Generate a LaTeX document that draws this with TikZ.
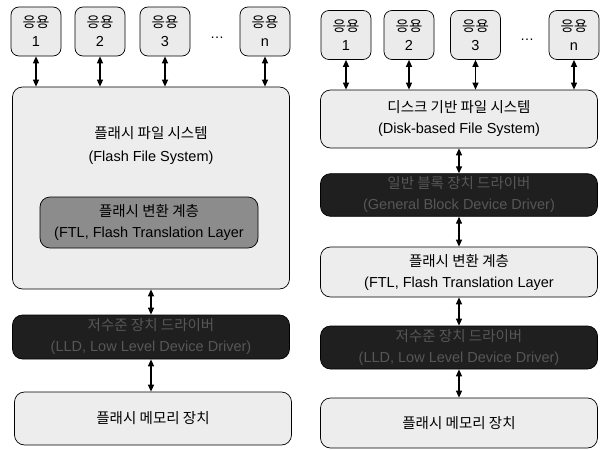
\documentclass[tikz,border=0pt]{standalone}
\usepackage{fontspec}
\setmainfont{Liberation Sans}
\newfontfamily\kr{Noto Sans CJK KR}
\usetikzlibrary{positioning, arrows.meta}

\begin{document}
\begin{tikzpicture}[
        x=1pt, y=-1pt,
        app/.style   = {draw, rounded corners=8pt, minimum width=50pt, minimum height=49pt, align=center, fill=black!8, font=\fontsize{14.5}{19}\selectfont, line width=0.7pt},
        layer/.style = {draw, rounded corners=10pt, minimum width=277pt, align=center, fill=black!7, font=\fontsize{14.5}{21}\selectfont, line width=0.7pt},
        dark/.style  = {layer, fill=black!88, text=black!66},
        arrow/.style = {{Triangle[length=7pt,width=6pt]}-{Triangle[length=7pt,width=6pt]}, line width=1.2pt},
    ]
        \useasboundingbox (0,0) rectangle (600,450);

        % left: flash file system
        \node[app] (la1) at (36,31.5) {{\kr 응용}\\1};
        \node[app] (la2) at (100,31.5) {{\kr 응용}\\2};
        \node[app] (la3) at (165,31.5) {{\kr 응용}\\3};
        \node[font=\fontsize{14}{20}\selectfont] (ldots) at (217,38) {\ldots};
        \node[app] (lan) at (265,31.5) {{\kr 응용}\\n};

        \node[layer, minimum height=202pt] (ffs) at (151,188) {};
        \node[align=center, font=\fontsize{14.5}{23}\selectfont] (ffstitle) at (151,146) {{\kr 플래시 파일 시스템}\\(Flash File System)};
        \node[layer, fill=black!45, minimum width=218pt, minimum height=51pt] (lftl) at (149,222.5) {{\kr 플래시 변환 계층}\\(FTL, Flash Translation Layer};
        \node[dark, minimum height=44pt] (llld) at (151,337) {{\kr 저수준 장치 드라이버}\\(LLD, Low Level Device Driver)};
        \node[layer, minimum height=53pt] (lmem) at (153,418.5) {{\kr 플래시 메모리 장치}};

        \draw[arrow] (la1.south) -- (la1.south |- ffs.north);
        \draw[arrow] (la2.south) -- (la2.south |- ffs.north);
        \draw[arrow] (la3.south) -- (la3.south |- ffs.north);
        \draw[arrow] (lan.south) -- (lan.south |- ffs.north);
        \draw[arrow] (ffs.south) -- (llld.north);
        \draw[arrow] (llld.south) -- (llld.south |- lmem.north);

        % right: disk-based file system on FTL
        \node[app] (ra1) at (346,35) {{\kr 응용}\\1};
        \node[app] (ra2) at (409,35) {{\kr 응용}\\2};
        \node[app] (ra3) at (475.5,35) {{\kr 응용}\\3};
        \node[font=\fontsize{14}{20}\selectfont] (rdots) at (527,40) {\ldots};
        \node[app] (ran) at (574,35) {{\kr 응용}\\n};

        \node[layer, minimum height=58pt] (dfs) at (459,119) {{\kr 디스크 기반 파일 시스템}\\(Disk-based File System)};
        \node[dark, minimum height=38pt] (gbd) at (459,195) {{\kr 일반 블록 장치 드라이버}\\(General Block Device Driver)};
        \node[layer, minimum height=50pt] (rftl) at (459,272) {{\kr 플래시 변환 계층}\\(FTL, Flash Translation Layer};
        \node[dark, minimum height=43pt] (rlld) at (459,347.5) {{\kr 저수준 장치 드라이버}\\(LLD, Low Level Device Driver)};
        \node[layer, minimum height=50pt] (rmem) at (459,423) {{\kr 플래시 메모리 장치}};

        \draw[arrow] (ra1.south) -- (ra1.south |- dfs.north);
        \draw[arrow] (ra2.south) -- (ra2.south |- dfs.north);
        \draw[arrow] (ra3.south) -- (ra3.south |- dfs.north);
        \draw[arrow] (ran.south) -- (ran.south |- dfs.north);
        \draw[arrow] (dfs) -- (gbd);
        \draw[arrow] (gbd) -- (rftl);
        \draw[arrow] (rftl) -- (rlld);
        \draw[arrow] (rlld) -- (rmem);
    \end{tikzpicture}
\end{document}
